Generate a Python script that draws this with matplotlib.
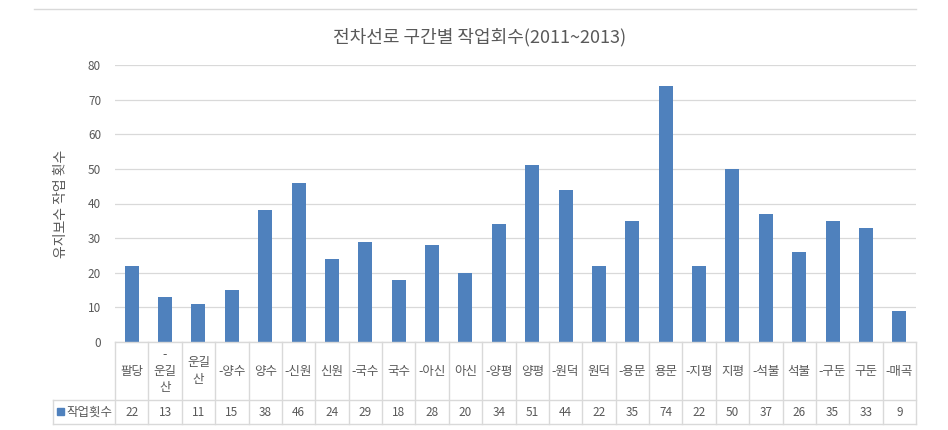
import matplotlib
matplotlib.use('Agg')
import matplotlib.pyplot as plt
from matplotlib.lines import Line2D
from matplotlib.patches import Rectangle

plt.rcParams['font.family'] = ['Noto Sans CJK KR', 'DejaVu Sans']

# data
sections = ['팔당', '-\n운길\n산', '운길\n산', '-양수', '양수', '-신원', '신원', '-국수',
            '국수', '-아신', '아신', '-양평', '양평', '-원덕', '원덕', '-용문', '용문',
            '-지평', '지평', '-석불', '석불', '-구둔', '구둔', '-매곡']
work_counts = [22, 13, 11, 15, 38, 46, 24, 29, 18, 28, 20, 34, 51, 44, 22, 35, 74,
               22, 50, 37, 26, 35, 33, 9]
series_name = '작업횟수'
title = '전차선로 구간별 작업회수(2011~2013)'
ylabel = '유지보수 작업 횟수'

W, H = 948, 430
txt = '#595959'
grid = '#d9d9d9'
bar_col = '#4f81bd'

fig = plt.figure(figsize=(W / 100, H / 100), dpi=100)

def fx(px):
    return px / W

def fy(py):
    return 1 - py / H

x0, x1 = 115, 916
ytop, ybot = 65, 342
ax = fig.add_axes([fx(x0), fy(ybot), fx(x1 - x0), fy(ytop) - fy(ybot)])
n = len(sections)
xs = list(range(n))
ax.bar(xs, work_counts, width=0.42, color=bar_col, zorder=3)
ax.set_xlim(-0.5, n - 0.5)
ax.set_ylim(0, 80)
ax.set_yticks(range(0, 81, 10))
ax.yaxis.grid(True, color=grid, linewidth=0.9)
ax.set_axisbelow(True)
for s in ax.spines.values():
    s.set_visible(False)
ax.tick_params(axis='y', length=0, colors=txt, labelsize=8.5, pad=10)
ax.set_xticks([])
ax.set_ylabel(ylabel, color=txt, fontsize=10, labelpad=14)

fig.text(fx(480), fy(37), title, ha='center', va='center', fontsize=13, color=txt)

# top decorative line
fig.add_artist(Line2D([fx(34), fx(916)], [fy(9), fy(9)], color=grid, lw=1))

# data table under the axis
cw = (x1 - x0) / n
r1, r2 = 400, 424
lines = [
    ([x0, x1], [ybot, ybot]),
    ([53, x1], [r1, r1]),
    ([53, x1], [r2, r2]),
    ([53, 53], [r1, r2]),
]
for i in range(n + 1):
    xp = x0 + i * cw
    lines.append(([xp, xp], [ybot, r2]))
for lx, ly in lines:
    fig.add_artist(Line2D([fx(v) for v in lx], [fy(v) for v in ly], color=grid, lw=1))

for i, (lab, val) in enumerate(zip(sections, work_counts)):
    cx = x0 + (i + 0.5) * cw
    fig.text(fx(cx), fy((ybot + r1) / 2), lab, ha='center', va='center',
             fontsize=9, color=txt, linespacing=1.35)
    fig.text(fx(cx), fy((r1 + r2) / 2), str(val), ha='center', va='center',
             fontsize=8.5, color=txt)

fig.add_artist(Rectangle((fx(57), fy(415)), fx(7), fy(408) - fy(415), color=bar_col))
fig.text(fx(66), fy((r1 + r2) / 2), series_name, ha='left', va='center',
         fontsize=9, color=txt)

fig.savefig('out.png', dpi=100)
